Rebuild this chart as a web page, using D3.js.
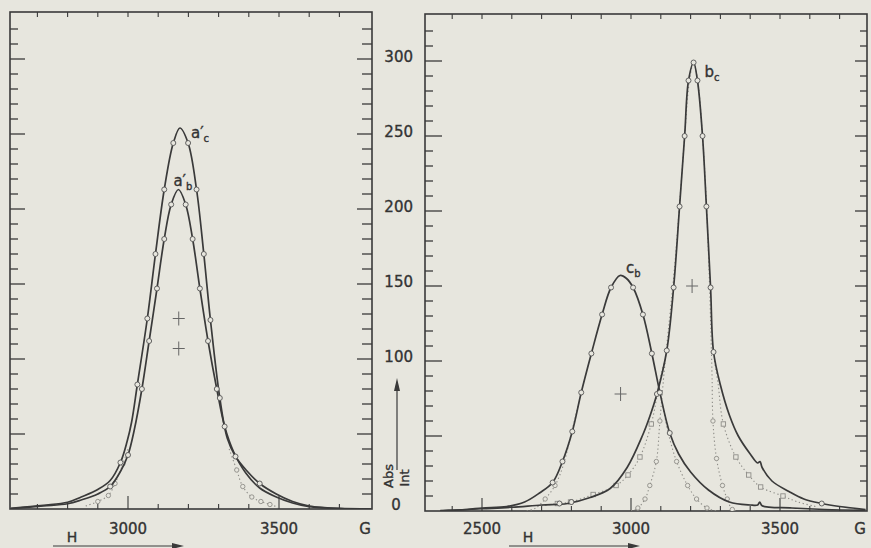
<!DOCTYPE html>
<html><head><meta charset="utf-8">
<script src="https://cdn.jsdelivr.net/npm/d3@7"></script>
<style>
body{margin:0;background:#e7e6de;}
svg{display:block;}
text{font-family:"DejaVu Sans",sans-serif;fill:#333;stroke:#333;stroke-width:0.35px;}
</style>
</head><body>
<svg id="c" width="871" height="548"></svg>
<script>
// ---------------- DATA ----------------
// field H in gauss, absorption intensity in arbitrary units
const leftFieldTicks = [2700,2800,2900,3000,3100,3200,3300,3400,3500,3600,3700];
const rightFieldTicks = [2400,2500,2600,2700,2800,2900,3000,3100,3200,3300,3400,3500,3600,3700];
const leftFieldLabels = [3000,3500];
const rightFieldLabels = [2500,3000,3500];
const intensityTicks = [10,20,30,40,50,60,70,80,90,100,110,120,130,140,150,160,170,180,190,200,210,220,230,240,250,260,270,280,290,300,310,320];
const intensityLabels = [100,150,200,250,300];

// left panel: a'c (outer) and a'b (inner)
const acCurve = [[2612,0.5],[2720,2.5],[2800,4.5],[2845,8],[2900,13],[2941,19],[2975,31],[2997,45],[3012,58],[3031,83],[3064,127],[3091,170],[3120,213],[3150,244],[3172,254],[3199,244],[3227,213],[3251,170],[3273,126],[3304,74],[3329,47],[3356,35],[3391,26],[3436,17],[3491,10],[3545,5],[3600,2],[3650,1],[3700,0.5],[3805,0]];
const acPoints = [[3150,244],[3199,244],[3120,213],[3227,213],[3091,170],[3251,170],[3064,127],[3273,126],[3031,83],[3304,74],[2975,31],[3356,35],[3436,17]];
const abCurve = [[2612,0.3],[2720,2],[2800,3.5],[2845,6],[2900,10],[2941,15],[2975,25],[3000,36],[3020,52],[3046,80],[3070,112],[3096,147],[3120,180],[3143,203],[3167,213],[3191,203],[3214,180],[3238,147],[3265,112],[3294,80],[3320,55],[3350,38],[3390,24],[3436,14],[3491,8],[3545,4],[3600,1.5],[3650,0.8],[3700,0.3],[3805,0]];
const abPoints = [[3143,203],[3191,203],[3120,180],[3214,180],[3096,147],[3238,147],[3070,112],[3265,112],[3046,80],[3294,80],[3000,36],[3320,55],[2941,15]];
const leftDotted1 = [[2860,2],[2900,5],[2935,9],[2957,17],[2983,30],[3000,40]];
const leftDotted2 = [[3335,40],[3360,26],[3380,15],[3410,8],[3440,5],[3470,3],[3500,1]];
const leftHalfMarks = [[3168,127],[3168,107]];

// right panel: b_c and c_b
const bcCurve = [[2360,0],[2400,0.5],[2500,1.5],[2600,2.5],[2700,4],[2787,5],[2863,9],[2930,15],[2987,29],[3040,51],[3063,63],[3087,78],[3120,107],[3143,149],[3163,203],[3180,250],[3193,287],[3210,299],[3223,287],[3240,250],[3253,203],[3267,149],[3277,106],[3300,84],[3330,64],[3360,50],[3400,38],[3425,32],[3433,33],[3440,29],[3473,20],[3530,13],[3580,8],[3640,5],[3700,3],[3787,1]];
const bcPoints = [[3210,299],[3193,287],[3223,287],[3180,250],[3240,250],[3163,203],[3253,203],[3143,149],[3267,149],[3120,107],[3277,106],[3087,78],[2760,5],[2800,6],[3640,5]];
const cbCurve = [[2360,0.3],[2450,1],[2500,2],[2583,3],[2643,6],[2693,12],[2737,19],[2770,33],[2803,53],[2833,79],[2867,105],[2903,131],[2933,149],[2963,157],[2985,155],[3007,149],[3040,131],[3070,105],[3097,79],[3130,52],[3160,38],[3200,26],[3260,14],[3330,6],[3400,4],[3425,4],[3432,6],[3440,3.5],[3540,2],[3650,1],[3787,0.5]];
const cbPoints = [[2737,19],[2770,33],[2803,53],[2833,79],[2867,105],[2903,131],[2933,149],[3007,149],[3040,131],[3070,105],[3097,79],[3130,52]];
const bcNarrow = [[3000,0],[3023,2],[3047,8],[3063,17],[3085,33],[3097,60],[3110,90],[3125,120],[3145,160],[3165,210],[3182,255],[3195,285],[3210,299],[3225,285],[3238,255],[3252,210],[3262,160],[3268,120],[3272,90],[3275,60],[3287,35],[3307,17],[3323,8],[3340,1],[3360,0]];
const bcNarrowPoints = [[3097,60],[3085,33],[3063,17],[3047,8],[3023,2],[3275,60],[3287,35],[3307,17],[3323,8],[3340,1]];
const bcWideLeft = [[2700,3.5],[2753,5],[2797,6],[2873,11],[2950,17],[2990,24],[3030,36],[3068,58],[3095,85],[3112,100]];
const bcWideRight = [[3280,100],[3292,85],[3310,58],[3352,36],[3395,24],[3435,16],[3510,10],[3560,6],[3620,3]];
const bcWidePoints = [[2753,5],[2797,6],[2873,11],[2950,17],[2990,24],[3030,36],[3068,58],[3310,58],[3352,36],[3395,24],[3435,16],[3510,10]];
const cbNarrowLeft = [[2650,0],[2680,2],[2712,8],[2745,17],[2772,30],[2800,52],[2825,72]];
const cbNarrowRight = [[3105,72],[3125,52],[3153,33],[3190,17],[3220,8],[3255,2],[3287,0]];
const cbNarrowPoints = [[2712,8],[2745,17],[3153,33],[3190,17],[3220,8],[3255,2]];
const rightHalfMarks = [[2965,78],[3205,150]];

// ---------------- DRAWING ----------------
const ink = "#3a3a3a", faint = "#8e8d88", bg = "#e7e6de";
const svg = d3.select("#c");

function makePanel(p) {
  const g = svg.append("g");
  const x = d3.scaleLinear().domain([3000,3500]).range(p.xr);
  const y = d3.scaleLinear().domain([0,300]).range(p.yr);
  const id = "clip" + p.name;
  svg.append("clipPath").attr("id", id).append("rect")
    .attr("x", p.frame[0]).attr("y", p.frame[1])
    .attr("width", p.frame[2]-p.frame[0]).attr("height", p.frame[3]-p.frame[1]);
  g.append("rect").attr("x", p.frame[0]).attr("y", p.frame[1])
    .attr("width", p.frame[2]-p.frame[0]).attr("height", p.frame[3]-p.frame[1])
    .attr("fill","none").attr("stroke", ink).attr("stroke-width",1.6);
  intensityTicks.forEach(v => {
    const long = v % 50 === 0;
    const yy = y(v);
    if (yy < p.frame[1] + 2) return;
    g.append("line").attr("x1", p.frame[0]).attr("x2", p.frame[0] + (long ? p.tl[1] : p.tl[0]))
      .attr("y1", yy).attr("y2", yy).attr("stroke", ink).attr("stroke-width",1.3);
    g.append("line").attr("x1", p.frame[2]).attr("x2", p.frame[2] - (long ? p.tr[1] : p.tr[0]))
      .attr("y1", yy).attr("y2", yy).attr("stroke", ink).attr("stroke-width",1.3);
  });
  p.fieldTicks.forEach(v => {
    const xx = x(v);
    const long = v % 500 === 0;
    g.append("line").attr("x1", xx).attr("x2", xx).attr("y1", p.frame[3]).attr("y2", p.frame[3] - (long ? 13 : 5))
      .attr("stroke", ink).attr("stroke-width",1.1);
    g.append("line").attr("x1", xx).attr("x2", xx).attr("y1", p.frame[1]).attr("y2", p.frame[1] + 5)
      .attr("stroke", ink).attr("stroke-width",1.1);
  });
  p.fieldLabels.forEach(v => {
    g.append("text").attr("x", x(v)).attr("y", 534).attr("text-anchor","middle")
      .attr("font-size",15).text(v);
  });
  g.append("text").attr("x", p.frame[2] - 7).attr("y", 534).attr("text-anchor","middle")
    .attr("font-size",15).text("G");
  g.append("text").attr("x", p.hx).attr("y", 542).attr("text-anchor","middle")
    .attr("font-size",14).text("H");
  g.append("line").attr("x1", p.hx - 19).attr("x2", p.hx + 105).attr("y1", 546).attr("y2", 546)
    .attr("stroke", ink).attr("stroke-width",1.2);
  g.append("path").attr("d", `M${p.hx+112},546 L${p.hx+100},543 L${p.hx+100},549 Z`).attr("fill", ink);

  const plot = g.append("g").attr("clip-path", `url(#${id})`);
  const line = d3.line().x(d => x(d[0])).y(d => y(d[1])).curve(d3.curveCatmullRom.alpha(0.5));
  p.dotted.forEach(s => {
    s.curves.forEach(c => {
      plot.append("path").attr("d", line(c)).attr("fill","none")
        .attr("stroke", faint).attr("stroke-width",1.1).attr("stroke-dasharray","1.3,2.6");
    });
    plot.selectAll(null).data(s.points).enter().append(s.square ? "rect" : "circle")
      .each(function(d){
        const el = d3.select(this);
        if (s.square) el.attr("x", x(d[0])-2.2).attr("y", y(d[1])-2.2).attr("width",4.4).attr("height",4.4);
        else el.attr("cx", x(d[0])).attr("cy", y(d[1])).attr("r",2.2);
      })
      .attr("fill", bg).attr("stroke", faint).attr("stroke-width",0.9);
  });
  p.solid.forEach(s => {
    plot.append("path").attr("d", line(s.curve)).attr("fill","none")
      .attr("stroke", ink).attr("stroke-width",1.7);
  });
  p.solid.forEach(s => {
    plot.selectAll(null).data(s.points).enter().append("circle")
      .attr("cx", d => x(d[0])).attr("cy", d => y(d[1])).attr("r",2.5)
      .attr("fill", bg).attr("stroke", "#555").attr("stroke-width",0.9);
  });
  p.crosses.forEach(d => {
    const cx = x(d[0]), cy = y(d[1]);
    plot.append("line").attr("x1",cx-6).attr("x2",cx+6).attr("y1",cy).attr("y2",cy).attr("stroke","#666").attr("stroke-width",1);
    plot.append("line").attr("x1",cx).attr("x2",cx).attr("y1",cy-7).attr("y2",cy+7).attr("stroke","#666").attr("stroke-width",1);
  });
  p.labels.forEach(l => {
    const t = g.append("text").attr("x", x(l.at[0]) + l.dx).attr("y", y(l.at[1]) + l.dy).attr("font-size",15);
    t.append("tspan").text(l.main);
    t.append("tspan").attr("dy", 4).attr("font-size",10).text(l.sub);
  });
  return {x, y, g};
}

makePanel({
  name:"L", xr:[128,279], yr:[509,59], frame:[10,12,372,509],
  tl:[8,15], tr:[10,15],
  fieldTicks:leftFieldTicks, fieldLabels:leftFieldLabels, hx:72,
  solid:[{curve:acCurve, points:acPoints},{curve:abCurve, points:abPoints}],
  dotted:[{curves:[leftDotted1], points:leftDotted1.slice(1,5)},{curves:[leftDotted2], points:leftDotted2.slice(1,6)}],
  crosses:leftHalfMarks,
  labels:[{main:"a′", sub:"c", at:[3172,254], dx:11, dy:10},
          {main:"a′", sub:"b", at:[3167,213], dx:-5, dy:-4}]
});

const R = makePanel({
  name:"R", xr:[631,780], yr:[511,61], frame:[425,14,867,511],
  tl:[8,17], tr:[7,12],
  fieldTicks:rightFieldTicks, fieldLabels:rightFieldLabels, hx:528,
  solid:[{curve:bcCurve, points:bcPoints},{curve:cbCurve, points:cbPoints}],
  dotted:[{curves:[bcNarrow], points:bcNarrowPoints},
          {curves:[bcWideLeft, bcWideRight], points:bcWidePoints, square:true},
          {curves:[cbNarrowLeft, cbNarrowRight], points:cbNarrowPoints}],
  crosses:rightHalfMarks,
  labels:[{main:"b", sub:"c", at:[3210,299], dx:11, dy:14},
          {main:"c", sub:"b", at:[2963,157], dx:6, dy:-3}]
});

intensityLabels.forEach(v => {
  svg.append("text").attr("x", 413).attr("y", R.y(v) + 1).attr("text-anchor","end")
    .attr("font-size",15).text(v);
});
svg.append("text").attr("x", 396).attr("y", R.y(0) - 1).attr("text-anchor","middle")
  .attr("font-size",15).text("0");
svg.append("line").attr("x1",397).attr("x2",397).attr("y1",470).attr("y2",388).attr("stroke",ink).attr("stroke-width",1.2);
svg.append("path").attr("d","M397,378 L394,391 L400,391 Z").attr("fill",ink);
svg.append("text").attr("transform","translate(393,476) rotate(-90)").attr("text-anchor","middle").attr("font-size",13).text("Abs");
svg.append("text").attr("transform","translate(409,478) rotate(-90)").attr("text-anchor","middle").attr("font-size",13).text("Int");
</script>
</body></html>
